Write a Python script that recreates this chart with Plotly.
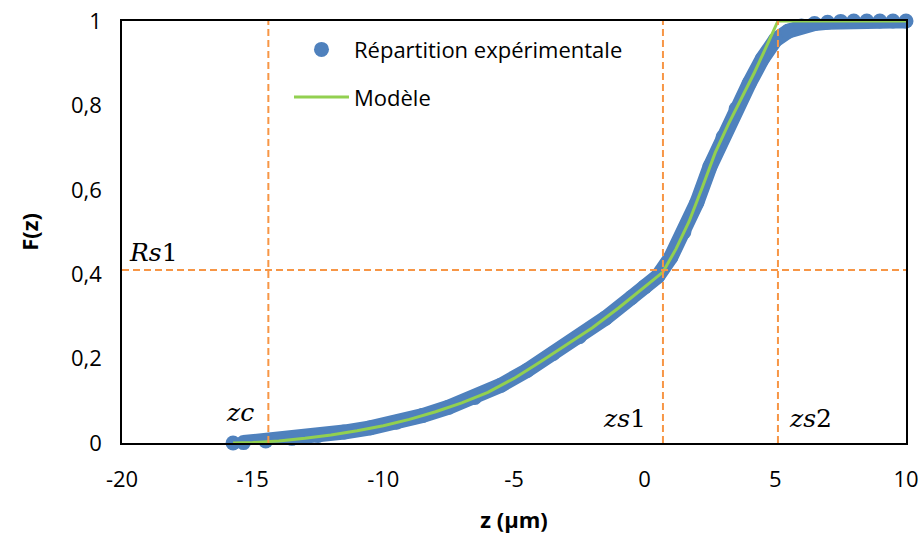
import plotly.graph_objects as go

# Répartition expérimentale (z en µm, F(z))
exp_z = [-15.75, -15.35, -14.5, -13.5, -12.5, -11.5, -10.5, -9.5, -8.5, -7.5, -6.5,
         -5.5, -4.5, -3.5, -2.5, -1.5, -0.5, 0.0, 0.5, 1.0, 1.5, 2.0, 2.5, 3.0,
         3.5, 4.0, 4.5, 5.0, 5.5, 6.0, 6.5, 7.0, 7.5, 8.0, 8.5, 9.0, 9.5, 10.0]
exp_F = [0.0, 0.001, 0.005, 0.011, 0.018, 0.026, 0.036, 0.049, 0.065, 0.085, 0.108,
         0.137, 0.172, 0.212, 0.252, 0.296, 0.345, 0.37, 0.395, 0.44, 0.50, 0.57, 0.655, 0.725,
         0.792, 0.852, 0.91, 0.955, 0.976, 0.988, 0.994, 0.997, 0.999, 1.0, 1.0, 1.0, 1.0, 1.0]

# Modèle
model_z = [-15.75, -15, -14, -13, -12, -11, -10, -9, -8, -7, -6, -5, -4, -3, -2, -1,
           0, 0.7, 1.2, 1.7, 2.2, 2.7, 3.2, 3.7, 4.2, 4.7, 5.1, 10]
model_F = [0.0, 0.001, 0.005, 0.011, 0.019, 0.029, 0.041, 0.056, 0.074, 0.095, 0.12, 0.153,
           0.192, 0.232, 0.273, 0.32, 0.37, 0.405, 0.46, 0.525, 0.605, 0.688, 0.755, 0.818,
           0.878, 0.945, 1.0, 1.0]

# points caractéristiques
zc, zs1, zs2, Rs1 = -14.4, 0.7, 5.1, 0.41

# graduations
x_ticks = [-20, -15, -10, -5, 0, 5, 10]
x_ticklabels = ["-20", "-15", "-10", "-5", "0", "5", "10"]
y_ticks = [0, 0.2, 0.4, 0.6, 0.8, 1]
y_ticklabels = ["0", "0,2", "0,4", "0,6", "0,8", "1"]

blue = "#4F81BD"
green = "#92D050"
orange = "#F79646"
font = "Open Sans"

fig = go.Figure()

# bande épaisse de points expérimentaux
fig.add_trace(go.Scatter(
    x=exp_z[1:], y=exp_F[1:], mode="lines",
    line=dict(color=blue, width=15),
    legendgroup="exp", showlegend=False, cliponaxis=False, hoverinfo="skip"
))
fig.add_trace(go.Scatter(
    x=exp_z, y=exp_F, mode="markers", name="Répartition expérimentale",
    marker=dict(color=blue, size=15),
    legendgroup="exp", cliponaxis=False
))
fig.add_trace(go.Scatter(
    x=model_z, y=model_F, mode="lines", name="Modèle",
    line=dict(color=green, width=3),
    legendgroup="model", cliponaxis=False
))

# lignes pointillées
dash = dict(color=orange, width=2, dash="7px,4px")
for xv in [zc, zs1, zs2]:
    fig.add_shape(type="line", x0=xv, x1=xv, y0=0, y1=1, line=dash)
fig.add_shape(type="line", x0=-20, x1=10, y0=Rs1, y1=Rs1, line=dash)

labels = [
    (-19.8, 0.452, "<i>Rs</i>1", "left"),
    (-15.48, 0.073, "<i>zc</i>", "center"),
    (-0.79, 0.059, "<i>zs</i>1", "center"),
    (6.33, 0.059, "<i>zs</i>2", "center"),
]
for x, y, t, xa in labels:
    fig.add_annotation(x=x, y=y, text=t, showarrow=False, xanchor=xa, yanchor="middle",
                       font=dict(family="DejaVu Serif", size=25, color="black"))

fig.update_layout(
    width=924, height=536,
    margin=dict(l=122, r=18, t=21, b=93),
    plot_bgcolor="white", paper_bgcolor="white",
    font=dict(family=font, size=22, color="black"),
    showlegend=True,
    legend=dict(x=0.213, y=0.982, xanchor="left", yanchor="top",
                traceorder="grouped", tracegroupgap=16, itemwidth=55,
                bgcolor="rgba(0,0,0,0)", font=dict(size=22)),
    xaxis=dict(
        range=[-20, 10], tickvals=x_ticks, ticktext=x_ticklabels,
        showline=True, linecolor="black", linewidth=1.5, mirror=True,
        showgrid=False, zeroline=False, ticks="", automargin=False,
        ticklabelstandoff=16, ticklabeloverflow="allow",
        title=dict(text="<b>z (µm)</b>", font=dict(size=22), standoff=20),
    ),
    yaxis=dict(
        range=[0, 1], tickvals=y_ticks, ticktext=y_ticklabels,
        showline=True, linecolor="black", linewidth=1.5, mirror=True,
        showgrid=False, zeroline=False, ticks="", automargin=False,
        ticklabelstandoff=14, ticklabeloverflow="allow",
        title=dict(text="<b>F(z)</b>", font=dict(size=22), standoff=26),
    ),
)

# pas de marge autour de la page, pas de barre d'outils
fig.write_html("out.html", config={"displayModeBar": False},
               post_script="document.body.style.margin = '0';")
